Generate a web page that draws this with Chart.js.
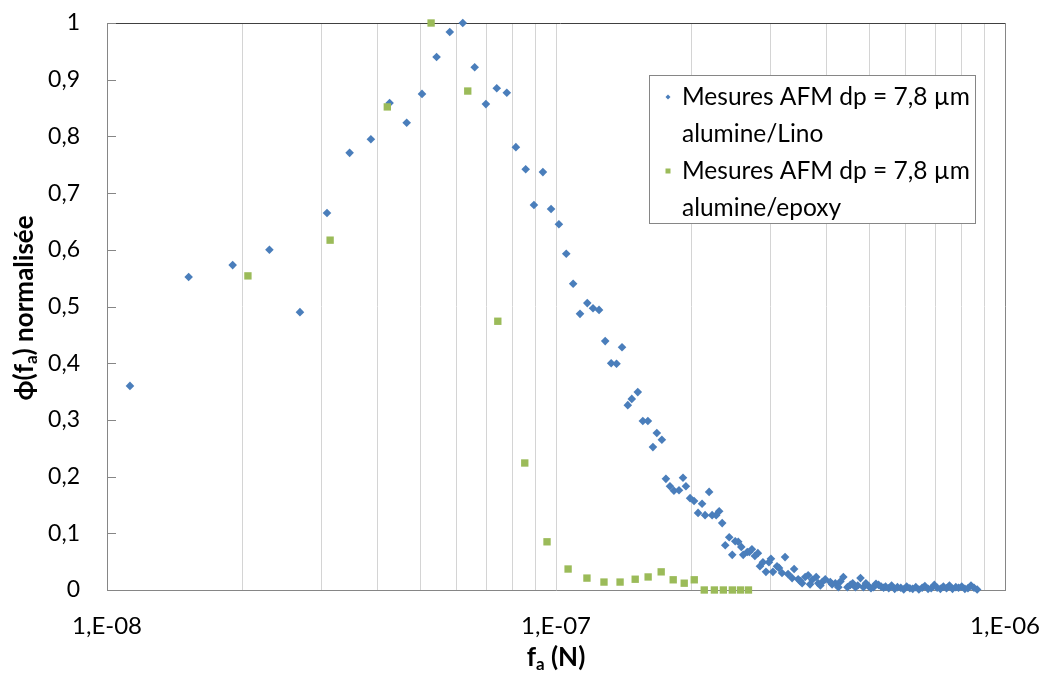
<!DOCTYPE html>
<html>
<head>
<meta charset="utf-8">
<script src="https://cdn.jsdelivr.net/npm/chart.js@4/dist/chart.umd.min.js"></script>
<style>
  html, body { margin: 0; padding: 0; background: #fff; }
  #wrap { width: 1044px; height: 677px; }
</style>
</head>
<body>
<div id="wrap"><canvas id="scatterChart" width="1044" height="677"></canvas></div>
<script>
// alumine/Lino - force (N) and normalised phi
var linoX = [
    1.125e-8, 1.52e-8, 1.905e-8, 2.30e-8, 2.69e-8, 3.09e-8, 3.47e-8, 3.87e-8, 4.26e-8, 4.65e-8,
    5.03e-8, 5.42e-8, 5.80e-8, 6.20e-8, 6.59e-8, 6.98e-8, 7.38e-8, 7.77e-8, 8.14e-8, 8.56e-8,
    8.93e-8, 9.35e-8, 9.75e-8, 1.015e-7, 1.054e-7, 1.092e-7, 1.131e-7, 1.174e-7, 1.209e-7, 1.247e-7,
    1.287e-7, 1.327e-7, 1.364e-7, 1.403e-7, 1.445e-7, 1.475e-7, 1.521e-7, 1.561e-7, 1.602e-7, 1.644e-7,
    1.677e-7, 1.721e-7, 1.757e-7, 1.794e-7, 1.831e-7, 1.879e-7, 1.918e-7, 1.947e-7, 1.989e-7, 2.030e-7,
    2.072e-7, 2.115e-7, 2.148e-7, 2.193e-7, 2.227e-7, 2.274e-7, 2.309e-7, 2.345e-7, 2.382e-7, 2.431e-7,
    2.469e-7, 2.507e-7, 2.546e-7, 2.586e-7, 2.612e-7, 2.667e-7, 2.695e-7, 2.731e-7, 2.773e-7, 2.816e-7,
    2.846e-7, 2.890e-7, 2.935e-7, 2.980e-7, 3.011e-7, 3.042e-7, 3.106e-7, 3.138e-7, 3.187e-7, 3.237e-7,
    3.287e-7, 3.356e-7, 3.391e-7, 3.462e-7, 3.533e-7, 3.589e-7, 3.644e-7, 3.721e-7, 3.798e-7, 3.838e-7,
    3.917e-7, 3.978e-7, 4.082e-7, 4.189e-7, 4.255e-7, 4.365e-7, 4.457e-7, 4.525e-7, 4.644e-7, 4.766e-7,
    4.839e-7, 4.966e-7, 5.096e-7, 5.230e-7, 5.366e-7,
    3.50e-7, 3.68e-7, 3.88e-7, 4.12e-7, 4.30e-7, 4.58e-7, 4.70e-7, 4.90e-7, 5.03e-7, 5.16e-7, 5.30e-7,
    5.42e-7, 5.51e-7, 5.59e-7, 5.68e-7, 5.76e-7, 5.86e-7, 5.95e-7, 6.04e-7, 6.14e-7, 6.23e-7,
    6.33e-7, 6.43e-7, 6.54e-7, 6.63e-7, 6.74e-7, 6.85e-7, 6.96e-7, 7.06e-7, 7.18e-7, 7.29e-7,
    7.41e-7, 7.52e-7, 7.64e-7, 7.77e-7, 7.88e-7, 8.01e-7, 8.14e-7, 8.27e-7, 8.40e-7, 8.53e-7, 8.67e-7
];
var linoY = [
    0.360, 0.552, 0.573, 0.600, 0.490, 0.665, 0.771, 0.795, 0.859, 0.824,
    0.875, 0.940, 0.984, 1.000, 0.922, 0.857, 0.885, 0.877, 0.781, 0.742,
    0.679, 0.737, 0.672, 0.645, 0.593, 0.540, 0.487, 0.506, 0.497, 0.494,
    0.439, 0.400, 0.399, 0.428, 0.326, 0.337, 0.349, 0.298, 0.298, 0.252,
    0.277, 0.265, 0.196, 0.183, 0.175, 0.176, 0.198, 0.183, 0.162, 0.157,
    0.136, 0.152, 0.132, 0.173, 0.132, 0.132, 0.139, 0.118, 0.079, 0.093,
    0.062, 0.086, 0.085, 0.076, 0.062, 0.067, 0.067, 0.072, 0.060, 0.065,
    0.042, 0.049, 0.032, 0.049, 0.055, 0.032, 0.042, 0.039, 0.030, 0.058,
    0.028, 0.021, 0.037, 0.019, 0.012, 0.023, 0.026, 0.018, 0.023, 0.012,
    0.014, 0.019, 0.014, 0.012, 0.005, 0.023, 0.005, 0.009, 0.005, 0.021,
    0.005, 0.007, 0.005, 0.009, 0.004,
    0.016, 0.010, 0.008, 0.010, 0.015, 0.012, 0.008, 0.012, 0.003, 0.011, 0.006,
    0.006, 0.003, 0.008, 0.002, 0.005, 0.004, 0.001, 0.006, 0.003, 0.002,
    0.005, 0.001, 0.004, 0.007, 0.002, 0.003, 0.009, 0.004, 0.002, 0.006,
    0.003, 0.008, 0.002, 0.005, 0.004, 0.006, 0.002, 0.003, 0.008, 0.004, 0.001
];

// alumine/epoxy
var epoxyX = [
    2.06e-8, 3.14e-8, 4.21e-8, 5.27e-8, 6.36e-8, 7.42e-8, 8.52e-8, 9.55e-8,
    1.064e-7, 1.172e-7, 1.279e-7, 1.389e-7, 1.501e-7, 1.604e-7, 1.715e-7, 1.824e-7,
    1.930e-7, 2.032e-7, 2.139e-7, 2.253e-7, 2.359e-7, 2.470e-7, 2.575e-7, 2.683e-7
];
var epoxyY = [
    0.554, 0.617, 0.852, 1.000, 0.880, 0.474, 0.224, 0.085,
    0.037, 0.021, 0.014, 0.014, 0.019, 0.023, 0.032, 0.018,
    0.012, 0.018, 0, 0, 0, 0, 0, 0
];

var linoLabel = ['Mesures AFM dp = 7,8 µm', 'alumine/Lino'];
var epoxyLabel = ['Mesures AFM dp = 7,8 µm', 'alumine/epoxy'];

// axis ticks
var xDecades = [1e-8, 1e-7, 1e-6];
var xDecadeLabels = ['1,E-08', '1,E-07', '1,E-06'];
var xMinorSteps = [1, 2, 3, 4, 5, 6, 7, 8, 9];
var yTickLabels = ['0', '0,1', '0,2', '0,3', '0,4', '0,5', '0,6', '0,7', '0,8', '0,9', '1'];

var blue = '#4a7ebb';
var green = '#9bbb59';
var fontName = 'Lato, "Open Sans", sans-serif';

function toPoints(xs, ys) {
    return xs.map(function (x, i) { return { x: x, y: ys[i] }; });
}

// drawing text with a subscript part, centred on (x, y)
function drawParts(ctx, parts, x, y) {
    var total = 0;
    parts.forEach(function (p) {
        ctx.font = p.sub ? 'bold 17px ' + fontName : 'bold 26px ' + fontName;
        p.w = ctx.measureText(p.t).width;
        total += p.w;
    });
    var cx = x - total / 2;
    parts.forEach(function (p) {
        ctx.font = p.sub ? 'bold 17px ' + fontName : 'bold 26px ' + fontName;
        ctx.fillText(p.t, cx, p.sub ? y + 7 : y);
        cx += p.w;
    });
}

var decor = {
    id: 'decor',
    beforeDatasetsDraw: function (chart) {
        var ctx = chart.ctx, a = chart.chartArea, ys = chart.scales.y;
        ctx.save();
        ctx.lineWidth = 1;
        ctx.strokeStyle = '#868686';
        ctx.beginPath();
        ys.ticks.forEach(function (t) {
            var py = Math.round(ys.getPixelForValue(t.value)) + 0.5;
            ctx.moveTo(a.left, py);
            ctx.lineTo(a.left + 9, py);
        });
        ctx.moveTo(Math.round(a.right) + 0.5, a.top);
        ctx.lineTo(Math.round(a.right) + 0.5, a.bottom);
        ctx.stroke();
        ctx.strokeStyle = '#404040';
        ctx.beginPath();
        ctx.moveTo(a.left + 9, Math.round(a.top) + 0.5);
        ctx.lineTo(a.right, Math.round(a.top) + 0.5);
        ctx.stroke();
        ctx.restore();
    },
    afterDraw: function (chart) {
        var ctx = chart.ctx, a = chart.chartArea;
        ctx.save();
        ctx.fillStyle = '#000';
        ctx.textBaseline = 'middle';
        ctx.textAlign = 'left';

        // axis titles
        drawParts(ctx, [{ t: 'f' }, { t: 'a', sub: true }, { t: ' (N)' }], (a.left + a.right) / 2, 658);
        ctx.save();
        ctx.translate(25, 308);
        ctx.rotate(-Math.PI / 2);
        drawParts(ctx, [{ t: 'ϕ(f' }, { t: 'a', sub: true }, { t: ') normalisée' }], 0, 0);
        ctx.restore();

        // legend
        var box = { left: 649, top: 75, right: 975, bottom: 223 };
        ctx.fillStyle = '#fff';
        ctx.fillRect(box.left, box.top, box.right - box.left, box.bottom - box.top);
        ctx.strokeStyle = '#868686';
        ctx.lineWidth = 1;
        ctx.strokeRect(box.left + 0.5, box.top + 0.5, box.right - box.left, box.bottom - box.top);

        ctx.fillStyle = blue;
        ctx.beginPath();
        ctx.moveTo(668, 94.5); ctx.lineTo(670.5, 97); ctx.lineTo(668, 99.5); ctx.lineTo(665.5, 97);
        ctx.closePath();
        ctx.fill();
        ctx.fillStyle = green;
        ctx.fillRect(665.5, 168.5, 5, 5);

        ctx.fillStyle = '#000';
        ctx.font = '24.5px ' + fontName;
        var lines = linoLabel.concat(epoxyLabel);
        var lineY = [97, 134, 171, 208];
        lines.forEach(function (l, i) { ctx.fillText(l, 682, lineY[i]); });
        ctx.restore();
    }
};

var xTickValues = [];
xDecades.forEach(function (d, i) {
    if (i < xDecades.length - 1) {
        xMinorSteps.forEach(function (m) { xTickValues.push(m * d); });
    } else {
        xTickValues.push(d);
    }
});

var ctx = document.getElementById('scatterChart').getContext('2d');
var chart = new Chart(ctx, {
    type: 'scatter',
    data: {
        datasets: [
            {
                label: linoLabel,
                data: toPoints(linoX, linoY),
                pointStyle: 'rectRot',
                pointRadius: 4.3,
                backgroundColor: blue,
                borderColor: blue,
                borderWidth: 0,
                clip: false,
                order: 1
            },
            {
                label: epoxyLabel,
                data: toPoints(epoxyX, epoxyY),
                pointStyle: 'rect',
                pointRadius: 5.2,
                backgroundColor: green,
                borderColor: green,
                borderWidth: 0,
                clip: false,
                order: 0
            }
        ]
    },
    options: {
        responsive: false,
        animation: false,
        devicePixelRatio: 1,
        layout: { padding: { top: 23, right: 39, left: 0, bottom: 0 } },
        plugins: {
            legend: { display: false },
            tooltip: { enabled: false }
        },
        scales: {
            x: {
                type: 'logarithmic',
                min: xDecades[0],
                max: xDecades[xDecades.length - 1],
                afterBuildTicks: function (scale) {
                    scale.ticks = xTickValues.map(function (v) { return { value: v }; });
                },
                afterFit: function (scale) {
                    scale.height = 87;
                    scale.paddingLeft = 0;
                    scale.paddingRight = 0;
                },
                grid: { color: '#d4d4d4', lineWidth: 1, drawTicks: false },
                border: { display: true, color: '#868686', width: 1 },
                ticks: {
                    autoSkip: false,
                    maxRotation: 0,
                    padding: 22,
                    color: '#000',
                    font: { family: fontName, size: 24 },
                    callback: function (value) {
                        for (var i = 0; i < xDecades.length; i++) {
                            if (Math.abs(value / xDecades[i] - 1) < 1e-6) return xDecadeLabels[i];
                        }
                        return '';
                    }
                }
            },
            y: {
                type: 'linear',
                min: 0,
                max: 1,
                afterFit: function (scale) {
                    scale.width = 107;
                    scale.paddingTop = 0;
                    scale.paddingBottom = 0;
                },
                grid: { display: false, drawTicks: false },
                border: { display: true, color: '#868686', width: 1 },
                ticks: {
                    stepSize: 0.1,
                    padding: 27,
                    color: '#000',
                    font: { family: fontName, size: 23 },
                    callback: function (value) {
                        return yTickLabels[Math.round(value * 10)];
                    }
                }
            }
        }
    },
    plugins: [decor]
});
</script>
</body>
</html>
